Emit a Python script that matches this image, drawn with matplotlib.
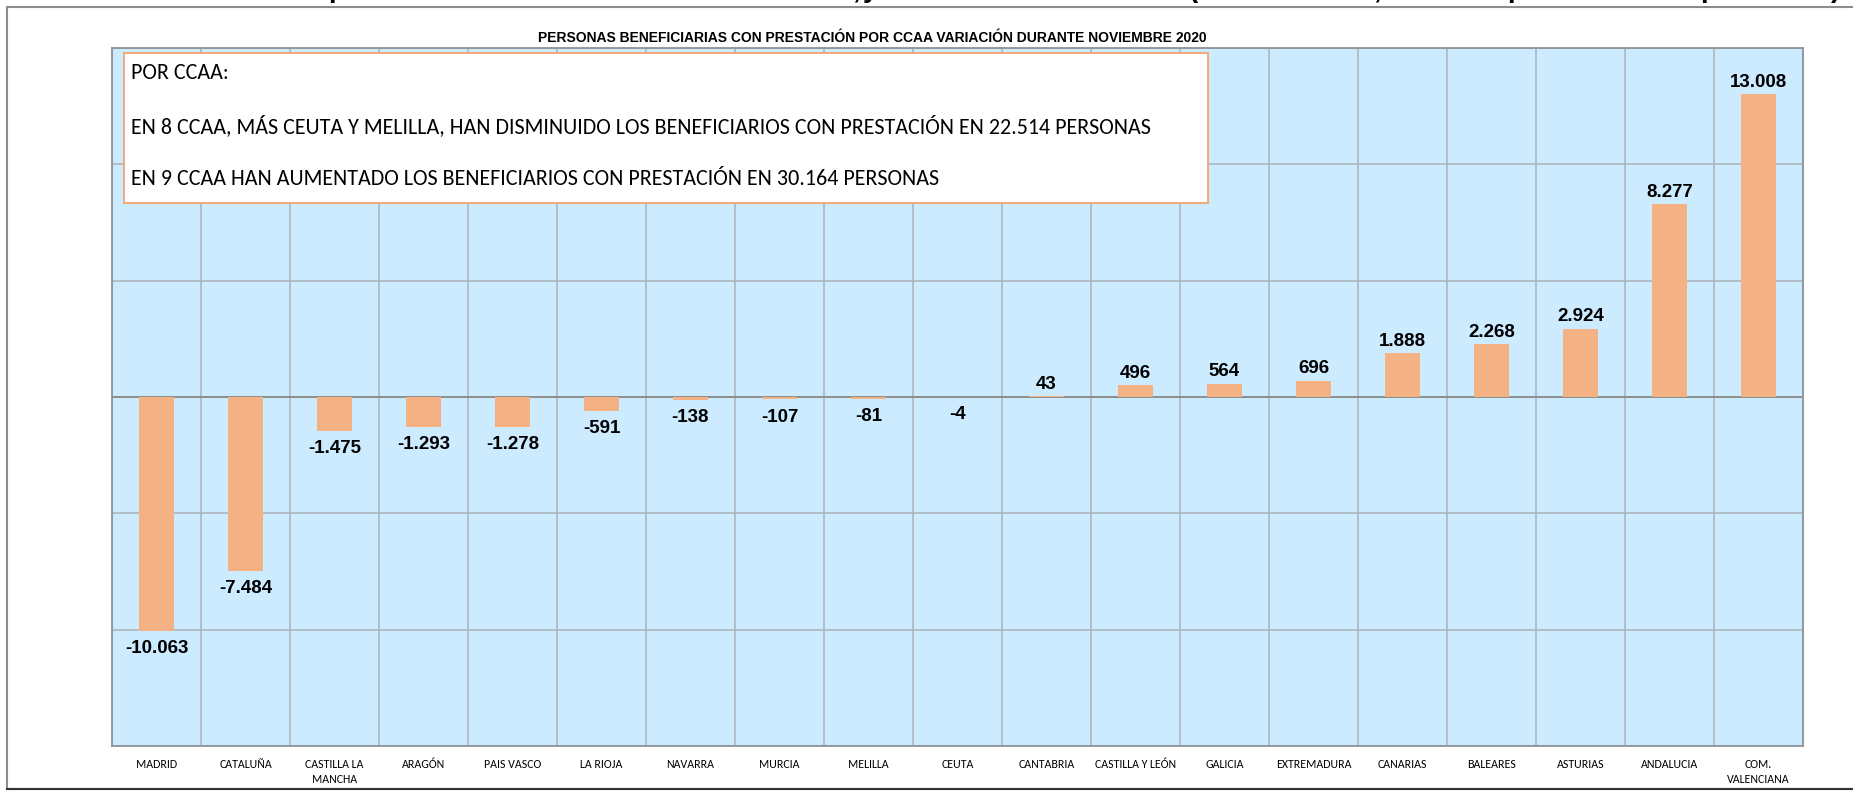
import matplotlib
matplotlib.use("Agg")
import matplotlib.pyplot as plt
from matplotlib import font_manager
from matplotlib.patches import Rectangle
import numpy as np

# datos
regiones = ['MADRID', 'CATALUÑA', 'CASTILLA LA\nMANCHA', 'ARAGÓN', 'PAIS VASCO',
            'LA RIOJA', 'NAVARRA', 'MURCIA', 'MELILLA', 'CEUTA', 'CANTABRIA',
            'CASTILLA Y LEÓN', 'GALICIA', 'EXTREMADURA', 'CANARIAS', 'BALEARES',
            'ASTURIAS', 'ANDALUCIA', 'COM.\nVALENCIANA']
variacion = [-10063, -7484, -1475, -1293, -1278, -591, -138, -107, -81, -4,
             43, 496, 564, 696, 1888, 2268, 2924, 8277, 13008]

titulo = 'PERSONAS BENEFICIARIAS CON PRESTACIÓN POR CCAA VARIACIÓN DURANTE NOVIEMBRE 2020'
caja_lineas = ['POR CCAA:',
               'EN 8 CCAA, MÁS CEUTA Y MELILLA, HAN DISMINUIDO LOS BENEFICIARIOS CON PRESTACIÓN EN 22.514 PERSONAS',
               'EN 9 CCAA HAN AUMENTADO LOS BENEFICIARIOS CON PRESTACIÓN EN 30.164 PERSONAS']
# restos del titulo cortado arriba (solo se ven los descendentes)
restos = ['p', ',', 'y', '(', ',', 'p', 'p', ')']
restos_x = [337, 856, 871, 1193, 1377, 1516, 1709, 1836]

nombres = {f.name for f in font_manager.fontManager.ttflist}
narrow = 'Liberation Sans Narrow' if 'Liberation Sans Narrow' in nombres else 'Liberation Sans'
calibri = 'Carlito' if 'Carlito' in nombres else 'Lato'

W, H = 1853, 791
fig = plt.figure(figsize=(W / 100, H / 100), dpi=100)

def fx(px):
    return px / W

def fy(py):
    return 1 - py / H

# marco exterior
fig.add_artist(Rectangle((fx(7), fy(789)), fx(1900 - 7), fy(7) - fy(789),
                         transform=fig.transFigure, fill=False,
                         edgecolor='#8c8c8c', lw=1.5, zorder=1))
fig.add_artist(plt.Line2D([fx(7), 1], [fy(789), fy(789)], transform=fig.transFigure,
                          color='#333333', lw=1.5, zorder=1))

ax = fig.add_axes([fx(112), fy(746), fx(1803 - 112), fy(48) - fy(746)])
ax.set_facecolor('#CCEBFF')

x = np.arange(len(regiones))
ax.bar(x, variacion, width=0.4, color='#F4B183', zorder=3)

ax.set_xlim(-0.5, len(regiones) - 0.5)
ax.set_ylim(-15000, 15000)
ax.set_yticks(np.arange(-15000, 15001, 5000))
ax.set_xticks(x)
ax.set_xticklabels(regiones, fontsize=8.6, family=calibri, linespacing=1.5)
ax.set_xticks(np.arange(-0.5, len(regiones), 1), minor=True)
ax.tick_params(axis='x', which='both', length=0, pad=9)
ax.tick_params(axis='y', left=False, labelleft=False)
ax.grid(axis='y', which='major', color='#ABB2B9', lw=1.1, zorder=1)
ax.grid(axis='x', which='minor', color='#ABB2B9', lw=1.1, zorder=1)
ax.axhline(0, color='#8A8A8A', lw=1.3, zorder=2)
for s in ax.spines.values():
    s.set_color('#8C9399')
    s.set_linewidth(1.3)

for xi, v in zip(x, variacion):
    txt = f'{v:,}'.replace(',', '.')
    if v >= 0:
        ax.annotate(txt, (xi, v), xytext=(0, 2.5), textcoords='offset points',
                    ha='center', va='bottom', fontsize=13.5, fontweight='bold',
                    family='Liberation Sans', zorder=4)
    else:
        ax.annotate(txt, (xi, v), xytext=(0, -6.5), textcoords='offset points',
                    ha='center', va='top', fontsize=13.5, fontweight='bold',
                    family='Liberation Sans', zorder=4)

# titulo
fig.text(fx(872), fy(37.5), titulo, ha='center', va='center', fontsize=10,
         fontweight='bold', family=narrow)

for ch, px in zip(restos, restos_x):
    fig.text(fx(px), 1.0 + 3.0 / H, ch, ha='center', va='baseline', fontsize=20,
             fontweight='bold', family='Liberation Sans')

# cuadro de texto
fig.add_artist(Rectangle((fx(124), fy(203)), fx(1208 - 124), fy(53) - fy(203),
                         transform=fig.transFigure, facecolor='white',
                         edgecolor='#F4A46C', lw=1.3, zorder=5))
for linea, py in zip(caja_lineas, [73, 126, 179]):
    fig.text(fx(131), fy(py), linea, ha='left', va='center', fontsize=15.8,
             family=calibri, zorder=6)

fig.savefig('out.png', dpi=100)
